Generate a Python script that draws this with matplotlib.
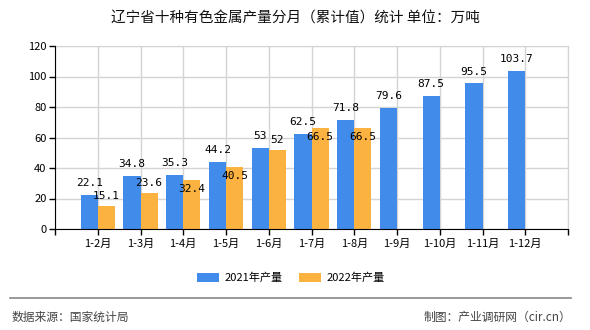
import matplotlib
matplotlib.use("Agg")
import matplotlib.pyplot as plt
from matplotlib.patches import Patch

plt.rcParams["font.family"] = ["Noto Sans CJK SC", "DejaVu Sans"]

title = "辽宁省十种有色金属产量分月（累计值）统计 单位：万吨"
months = ["1-2月", "1-3月", "1-4月", "1-5月", "1-6月", "1-7月",
          "1-8月", "1-9月", "1-10月", "1-11月", "1-12月"]
prod_2021 = [22.1, 34.8, 35.3, 44.2, 53, 62.5, 71.8, 79.6, 87.5, 95.5, 103.7]
prod_2022 = [15.1, 23.6, 32.4, 40.5, 52, 66.5, 66.5]
series_names = ["2021年产量", "2022年产量"]
source_text = "数据来源：国家统计局"
credit_text = "制图：产业调研网（cir.cn）"

BLUE = "#418BEB"
ORANGE = "#FBB240"
GRID = "#D4D4D4"
VALUE_FONT = ["DejaVu Sans Mono"]

fig = plt.figure(figsize=(5.9, 3.3), dpi=100)
ax = fig.add_axes([55 / 590, 1 - 229 / 330, 513 / 590, 183 / 330])

xs = [i + 1 for i in range(len(months))]
bar_w = 0.4
ax.bar([x - bar_w for x in xs], prod_2021, width=bar_w, align="edge",
       color=BLUE, zorder=3)
ax.bar(xs[:len(prod_2022)], prod_2022, width=bar_w, align="edge",
       color=ORANGE, zorder=3)

ax.set_xlim(0, len(months) + 1)
ax.set_ylim(0, 120)
ax.set_yticks(range(0, 121, 20))
ax.set_xticks(range(0, len(months) + 2))
ax.set_xticklabels([""] + months + [""])
ax.tick_params(axis="both", labelsize=8, length=4, width=1, color="black",
               direction="out")
ax.tick_params(axis="x", pad=3)
ax.tick_params(axis="y", pad=2)
ax.grid(True, color=GRID, linewidth=1, zorder=0)
for side in ("top", "right"):
    ax.spines[side].set_color(GRID)
for side in ("left", "bottom"):
    ax.spines[side].set_color("black")
    ax.spines[side].set_zorder(4)

# value labels; the 2022 label drops inside its bar when it would
# collide with the 2021 label next to it
px_per_unit = 183 / 120
for x, v in zip(xs, prod_2021):
    ax.annotate(f"{v:g}", (x - bar_w / 2, v), xytext=(0, 8.5),
                textcoords="offset points", ha="center", va="center",
                fontsize=8, family=VALUE_FONT, zorder=5)
for x, v, v21 in zip(xs, prod_2022, prod_2021):
    a, b = f"{v21:g}", f"{v:g}"
    overlap_x = (len(a) + len(b)) * 5.7 / 2 > bar_w * 43
    overlap_y = abs(v21 - v) * px_per_unit < 10
    dy = -6.5 if (overlap_x and overlap_y) else 7
    ax.annotate(b, (x + bar_w / 2, v), xytext=(0, dy),
                textcoords="offset points", ha="center", va="center",
                fontsize=8, family=VALUE_FONT, zorder=5)

fig.text(0.5, 1 - 19 / 330, title, ha="center", va="center", fontsize=10.5,
         color="#111111")

handles = [Patch(facecolor=BLUE), Patch(facecolor=ORANGE)]
fig.legend(handles, series_names, loc="center", bbox_to_anchor=(291 / 590, 1 - 278 / 330),
           ncol=2, frameon=False, fontsize=8, handlelength=2.0, handleheight=0.8,
           handletextpad=0.5, columnspacing=1.4)

fig.add_artist(plt.Line2D([10 / 590, 571 / 590], [1 - 298 / 330] * 2,
                          transform=fig.transFigure, color="#888888", linewidth=1.2))
fig.text(12 / 590, 1 - 317 / 330, source_text, ha="left", va="center",
         fontsize=8.5, color="#444444")
fig.text(571 / 590, 1 - 317 / 330, credit_text, ha="right", va="center",
         fontsize=8.5, color="#444444")

fig.savefig("out.png", dpi=100)
